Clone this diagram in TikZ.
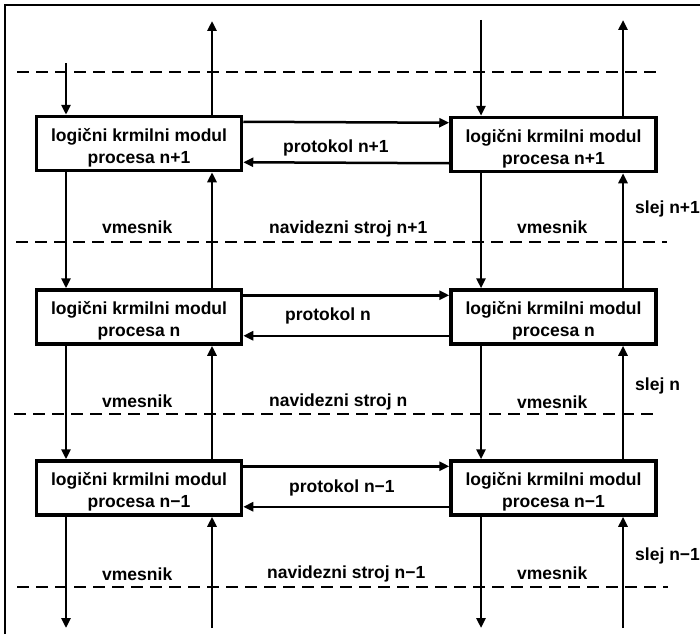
\documentclass[tikz,border=0pt]{standalone}
\usepackage{fontspec}
\setmainfont{Liberation Sans}
\usetikzlibrary{arrows.meta}
% a tall invisible strut that lowers the two-line module captions a little
\newcommand{\capstrut}{\rule{0pt}{21pt}}
\begin{document}
\begin{tikzpicture}[x=1pt,y=-1pt,
  modul/.style={draw,line width=3.5pt,minimum width=205pt,minimum height=54pt,
    inner sep=0pt,align=center,font=\fontsize{17.5}{22}\selectfont\bfseries},
  lbl/.style={anchor=base west,inner sep=0pt,font=\fontsize{17.5}{20}\selectfont\bfseries},
  flow/.style={line width=2.5pt,-{Triangle[length=10pt,width=9pt]}},
  layer/.style={line width=2.5pt,dash pattern=on 12pt off 7pt}]
\useasboundingbox (0,0) rectangle (700,634);
% outer frame (top and left edges)
\draw[line width=2pt] (5,634) -- (5,5) -- (700,5);

% layer boundaries
\draw[layer] (17,72) -- (660,72);
\draw[layer] (16,242) -- (667,242);
\draw[layer] (14,414) -- (658,414);
\draw[layer] (17,587) -- (668,587);

% control modules
\node[modul] (L1) at (139,143.5) {\capstrut logični krmilni modul\\procesa n+1};
\node[modul] (R1) at (553.5,144.5) {\capstrut logični krmilni modul\\procesa n+1};
\node[modul] (L2) at (139,317) {\capstrut logični krmilni modul\\procesa n};
\node[modul] (R2) at (553.5,317) {\capstrut logični krmilni modul\\procesa n};
\node[modul] (L3) at (139,488) {\capstrut logični krmilni modul\\procesa n−1};
\node[modul] (R3) at (553.5,488) {\capstrut logični krmilni modul\\procesa n−1};

% columns of the vertical flows and their free ends
\coordinate (dl) at (66,0);
\coordinate (ul) at (212,0);
\coordinate (dr) at (481,0);
\coordinate (ur) at (623,0);
\coordinate (dlTop) at (66,63);
\coordinate (ulTop) at (212,21);
\coordinate (drTop) at (481,20);
\coordinate (urTop) at (623,20);
\coordinate (dlBot) at (66,628);
\coordinate (ulBot) at (212,628);
\coordinate (drBot) at (481,628);
\coordinate (urBot) at (623,628);

% incoming from above
\draw[flow] (dlTop) -- (L1.north -| dl);
\draw[flow] (L1.north -| ul) -- (ulTop);
\draw[flow] (drTop) -- (R1.north -| dr);
\draw[flow] (R1.north -| ur) -- (urTop);

% between layers
\draw[flow] (L1.south -| dl) -- (L2.north -| dl);
\draw[flow] (L2.north -| ul) -- (L1.south -| ul);
\draw[flow] (R1.south -| dr) -- (R2.north -| dr);
\draw[flow] (R2.north -| ur) -- (R1.south -| ur);
\draw[flow] (L2.south -| dl) -- (L3.north -| dl);
\draw[flow] (L3.north -| ul) -- (L2.south -| ul);
\draw[flow] (R2.south -| dr) -- (R3.north -| dr);
\draw[flow] (R3.north -| ur) -- (R2.south -| ur);

% outgoing below
\draw[flow] (L3.south -| dl) -- (dlBot);
\draw[flow] (ulBot) -- (L3.south -| ul);
\draw[flow] (R3.south -| dr) -- (drBot);
\draw[flow] (urBot) -- (R3.south -| ur);

% protocol exchange between peers
\foreach \r in {1,2,3}{
  \draw[flow] ([yshift=-7pt]L\r.north east) -- ([yshift=-7pt]R\r.north west);
  \draw[flow] ([yshift=10pt]R\r.south west) -- ([yshift=10pt]L\r.south east);
}

% labels
\node[lbl] (p1) at (283,152) {protokol n+1};
\node[lbl] (p2) at (285,320) {protokol n};
\node[lbl] (p3) at (289,492) {protokol n−1};

\node[lbl] (vl1) at (102,233) {vmesnik};
\node[lbl] (ns1) at (269,233) {navidezni stroj n+1};
\node[lbl] (vr1) at (517,233) {vmesnik};
\node[lbl] (vl2) at (102,407) {vmesnik};
\node[lbl] (ns2) at (269,406) {navidezni stroj n};
\node[lbl] (vr2) at (517,408) {vmesnik};
\node[lbl] (vl3) at (102,580) {vmesnik};
\node[lbl] (ns3) at (267,578) {navidezni stroj n−1};
\node[lbl] (vr3) at (517,579) {vmesnik};

\node[lbl] (s1) at (635,213) {slej n+1};
\node[lbl] (s2) at (635,390) {slej n};
\node[lbl] (s3) at (635,560) {slej n−1};
\end{tikzpicture}
\end{document}
